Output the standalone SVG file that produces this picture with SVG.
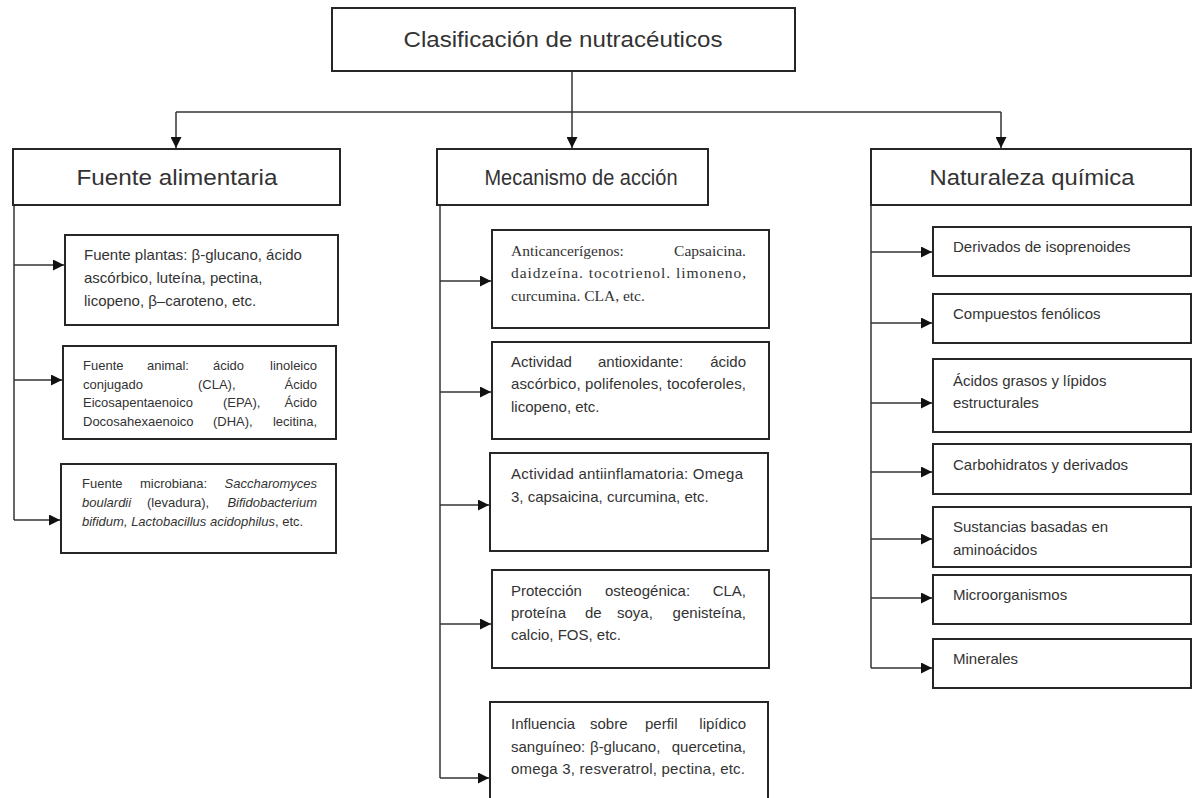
<svg xmlns="http://www.w3.org/2000/svg" width="1198" height="798" viewBox="0 0 1198 798">
<style>
.box{fill:#fff;stroke:#262626;stroke-width:2}
.con{fill:none;stroke:#333;stroke-width:1.5}
text{font-family:"Liberation Sans",Arial,sans-serif;fill:#333}
.h{font-size:22px}
.t{font-size:15px}
.s{font-size:13px}
.sr{font-family:"Liberation Serif","Times New Roman",serif;font-size:15.5px}
.i{font-style:italic}
.e{text-anchor:end}
</style>
<defs>
<marker id="ah" markerWidth="11" markerHeight="11" refX="11" refY="5.5" orient="auto" markerUnits="userSpaceOnUse"><path d="M0,0 L11,5.5 L0,11 z" fill="#111"/></marker>
</defs>
<rect width="1198" height="798" fill="#fff"/>
<g id="connectors">
<path class="con" d="M572,71 V148" marker-end="url(#ah)"/>
<path class="con" d="M176,112 H1001"/>
<path class="con" d="M176,112 V148" marker-end="url(#ah)"/>
<path class="con" d="M1001,112 V148" marker-end="url(#ah)"/>
<path class="con" d="M14,205 V520"/>
<path class="con" d="M14,265 H64" marker-end="url(#ah)"/>
<path class="con" d="M14,380 H62" marker-end="url(#ah)"/>
<path class="con" d="M14,520 H60" marker-end="url(#ah)"/>
<path class="con" d="M440,205 V778"/>
<path class="con" d="M440,281 H491" marker-end="url(#ah)"/>
<path class="con" d="M440,392 H491" marker-end="url(#ah)"/>
<path class="con" d="M440,505 H489" marker-end="url(#ah)"/>
<path class="con" d="M440,624 H491" marker-end="url(#ah)"/>
<path class="con" d="M440,778 H489" marker-end="url(#ah)"/>
<path class="con" d="M871,205 V668"/>
<path class="con" d="M871,252 H932" marker-end="url(#ah)"/>
<path class="con" d="M871,323 H932" marker-end="url(#ah)"/>
<path class="con" d="M871,403 H932" marker-end="url(#ah)"/>
<path class="con" d="M871,472 H932" marker-end="url(#ah)"/>
<path class="con" d="M871,539 H932" marker-end="url(#ah)"/>
<path class="con" d="M871,598 H932" marker-end="url(#ah)"/>
<path class="con" d="M871,668 H932" marker-end="url(#ah)"/>
</g>
<g id="root">
<rect class="box" x="332" y="8" width="463" height="63"/>
<text class="h" x="563" y="47" text-anchor="middle" textLength="319" lengthAdjust="spacingAndGlyphs">Clasificación de nutracéuticos</text>
</g>
<g id="fuente">
<rect class="box" x="13" y="149" width="327" height="56"/>
<text class="h" x="177" y="185" text-anchor="middle" textLength="201" lengthAdjust="spacingAndGlyphs">Fuente alimentaria</text>
</g>
<g id="mecanismo">
<rect class="box" x="437" y="149" width="271" height="56"/>
<text class="h" x="581" y="185" text-anchor="middle" textLength="193" lengthAdjust="spacingAndGlyphs">Mecanismo de acción</text>
</g>
<g id="naturaleza">
<rect class="box" x="871" y="149" width="320" height="56"/>
<text class="h" x="1032" y="185" text-anchor="middle" textLength="205" lengthAdjust="spacingAndGlyphs">Naturaleza química</text>
</g>
<g id="f-plantas">
<rect class="box" x="65" y="235" width="273" height="90"/>
<text class="t" x="84" y="260">Fuente plantas: β-glucano, ácido</text>
<text class="t" x="84" y="283">ascórbico, luteína, pectina,</text>
<text class="t" x="84" y="306">licopeno, β–caroteno, etc.</text>
</g>
<g id="f-animal">
<rect class="box" x="63" y="346" width="273" height="93"/>
<text class="s" y="370"><tspan x="83">Fuente</tspan><tspan x="147">animal:</tspan><tspan x="213">ácido</tspan></text>
<text class="s e" x="317" y="370">linoleico</text>
<text class="s" y="389"><tspan x="83">conjugado</tspan><tspan x="198">(CLA),</tspan></text>
<text class="s e" x="317" y="389">Ácido</text>
<text class="s" y="407"><tspan x="83">Eicosapentaenoico</tspan><tspan x="223">(EPA),</tspan></text>
<text class="s e" x="317" y="407">Ácido</text>
<text class="s" y="426"><tspan x="83">Docosahexaenoico</tspan><tspan x="213">(DHA),</tspan></text>
<text class="s e" x="317" y="426">lecitina,</text>
</g>
<g id="f-microbiana">
<rect class="box" x="61" y="464" width="275" height="89"/>
<text class="s" y="488"><tspan x="82">Fuente</tspan><tspan x="140">microbiana:</tspan></text>
<text class="s e i" x="317" y="488">Saccharomyces</text>
<text class="s" y="507"><tspan x="82" class="i">boulardii</tspan><tspan x="147">(levadura),</tspan></text>
<text class="s e i" x="317" y="507">Bifidobacterium</text>
<text class="s" y="526"><tspan x="82" class="i">bifidum, Lactobacillus acidophilus</tspan><tspan>, etc.</tspan></text>
</g>
<g id="m-anticancer">
<rect class="box" x="492" y="230" width="277" height="98"/>
<text class="sr" x="511" y="256">Anticancerígenos:</text>
<text class="sr e" x="746" y="256">Capsaicina.</text>
<text class="sr" x="511" y="278" textLength="235" lengthAdjust="spacing">daidzeína. tocotrienol. limoneno,</text>
<text class="sr" x="511" y="301">curcumina. CLA, etc.</text>
</g>
<g id="m-antioxidante">
<rect class="box" x="492" y="342" width="277" height="97"/>
<text class="t" y="367"><tspan x="511">Actividad</tspan><tspan x="598">antioxidante:</tspan></text>
<text class="t e" x="746" y="367">ácido</text>
<text class="t" x="511" y="389" textLength="235" lengthAdjust="spacing">ascórbico, polifenoles, tocoferoles,</text>
<text class="t" x="511" y="412">licopeno, etc.</text>
</g>
<g id="m-antiinflamatoria">
<rect class="box" x="490" y="453" width="278" height="98"/>
<text class="t" x="511" y="479" textLength="232" lengthAdjust="spacing">Actividad antiinflamatoria: Omega</text>
<text class="t" x="511" y="502">3, capsaicina, curcumina, etc.</text>
</g>
<g id="m-osteogenica">
<rect class="box" x="492" y="570" width="277" height="98"/>
<text class="t" y="596"><tspan x="511">Protección</tspan><tspan x="605">osteogénica:</tspan></text>
<text class="t e" x="746" y="596">CLA,</text>
<text class="t" y="618"><tspan x="511">proteína</tspan><tspan x="585">de</tspan><tspan x="617">soya,</tspan></text>
<text class="t e" x="746" y="618">genisteína,</text>
<text class="t" x="511" y="640">calcio, FOS, etc.</text>
</g>
<g id="m-lipidico">
<rect class="box" x="490" y="702" width="278" height="110"/>
<text class="t" y="729"><tspan x="511">Influencia</tspan><tspan x="590">sobre</tspan><tspan x="645">perfil</tspan></text>
<text class="t e" x="746" y="729">lipídico</text>
<text class="t" y="752"><tspan x="511">sanguíneo:</tspan><tspan x="590">β-glucano,</tspan></text>
<text class="t e" x="746" y="752">quercetina,</text>
<text class="t" x="511" y="774" textLength="234" lengthAdjust="spacing">omega 3, resveratrol, pectina, etc.</text>
</g>
<g id="n-isoprenoides">
<rect class="box" x="933" y="227" width="258" height="49"/>
<text class="t" x="953" y="252">Derivados de isoprenoides</text>
</g>
<g id="n-fenolicos">
<rect class="box" x="933" y="294" width="258" height="49"/>
<text class="t" x="953" y="319">Compuestos fenólicos</text>
</g>
<g id="n-acidos">
<rect class="box" x="933" y="359" width="258" height="73"/>
<text class="t" x="953" y="386">Ácidos grasos y lípidos</text>
<text class="t" x="953" y="408">estructurales</text>
</g>
<g id="n-carbohidratos">
<rect class="box" x="933" y="444" width="258" height="50"/>
<text class="t" x="953" y="470">Carbohidratos y derivados</text>
</g>
<g id="n-aminoacidos">
<rect class="box" x="933" y="507" width="258" height="60"/>
<text class="t" x="953" y="532">Sustancias basadas en</text>
<text class="t" x="953" y="555">aminoácidos</text>
</g>
<g id="n-microorganismos">
<rect class="box" x="933" y="575" width="258" height="49"/>
<text class="t" x="953" y="600">Microorganismos</text>
</g>
<g id="n-minerales">
<rect class="box" x="933" y="639" width="258" height="49"/>
<text class="t" x="953" y="664">Minerales</text>
</g>
</svg>
